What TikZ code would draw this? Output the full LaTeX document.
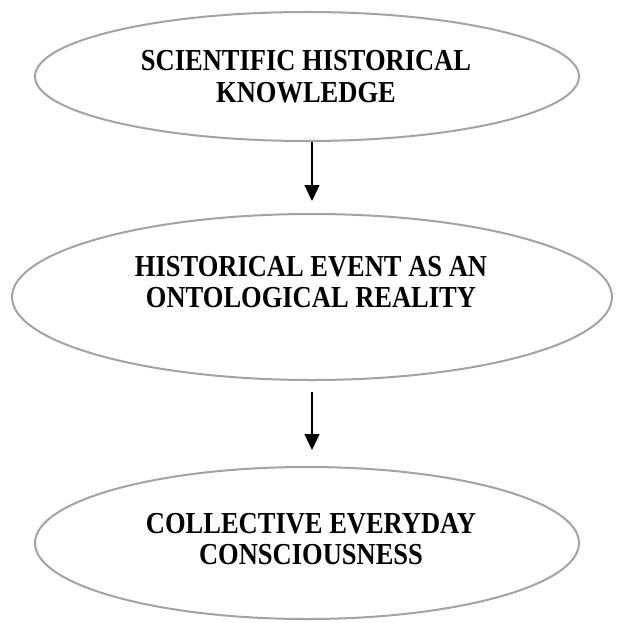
\documentclass[tikz,border=0pt]{standalone}
\usepackage{fontspec}
\setmainfont{Liberation Serif}
\usetikzlibrary{shapes.geometric,arrows.meta}
% tall bold caps, two lines
\newcommand{\tallcaps}[1]{\scalebox{1}[1.15]{\begin{tabular}[t]{@{}c@{}}#1\end{tabular}}}
\tikzset{
  blob/.style={draw=black!36, line width=2pt, ellipse, inner sep=0pt},
  caption/.style={anchor=base, inner sep=0pt,
    font=\bfseries\fontsize{26.5}{27}\selectfont},
  flow/.style={-{Triangle[width=15pt,length=16pt]}, line width=1.2pt}
}
\begin{document}
\begin{tikzpicture}[x=1pt,y=-1pt]
  \useasboundingbox (0,0) rectangle (616,623);
  % the three ellipses
  \node[blob, minimum width=544pt, minimum height=129pt] (sci) at (307,76.5) {};
  \node[blob, minimum width=600pt, minimum height=166pt] (event) at (312,297) {};
  \node[blob, minimum width=544pt, minimum height=152pt] (coll) at (307,543) {};
  % their texts
  \node[caption] (scitxt) at (306,71) {\tallcaps{SCIENTIFIC HISTORICAL\\KNOWLEDGE}};
  \node[caption] (eventtxt) at (311,276) {\tallcaps{HISTORICAL EVENT AS AN\\ONTOLOGICAL REALITY}};
  \node[caption] (colltxt) at (311,533) {\tallcaps{COLLECTIVE EVERYDAY\\CONSCIOUSNESS}};
  % arrows
  \begin{scope}[flow]
    \draw[shorten >=12pt] (sci.south -| event.north) to (event.north);
    \draw[shorten <=11pt, shorten >=16pt] (event.south) to (event.south |- coll.north);
  \end{scope}
\end{tikzpicture}
\end{document}
